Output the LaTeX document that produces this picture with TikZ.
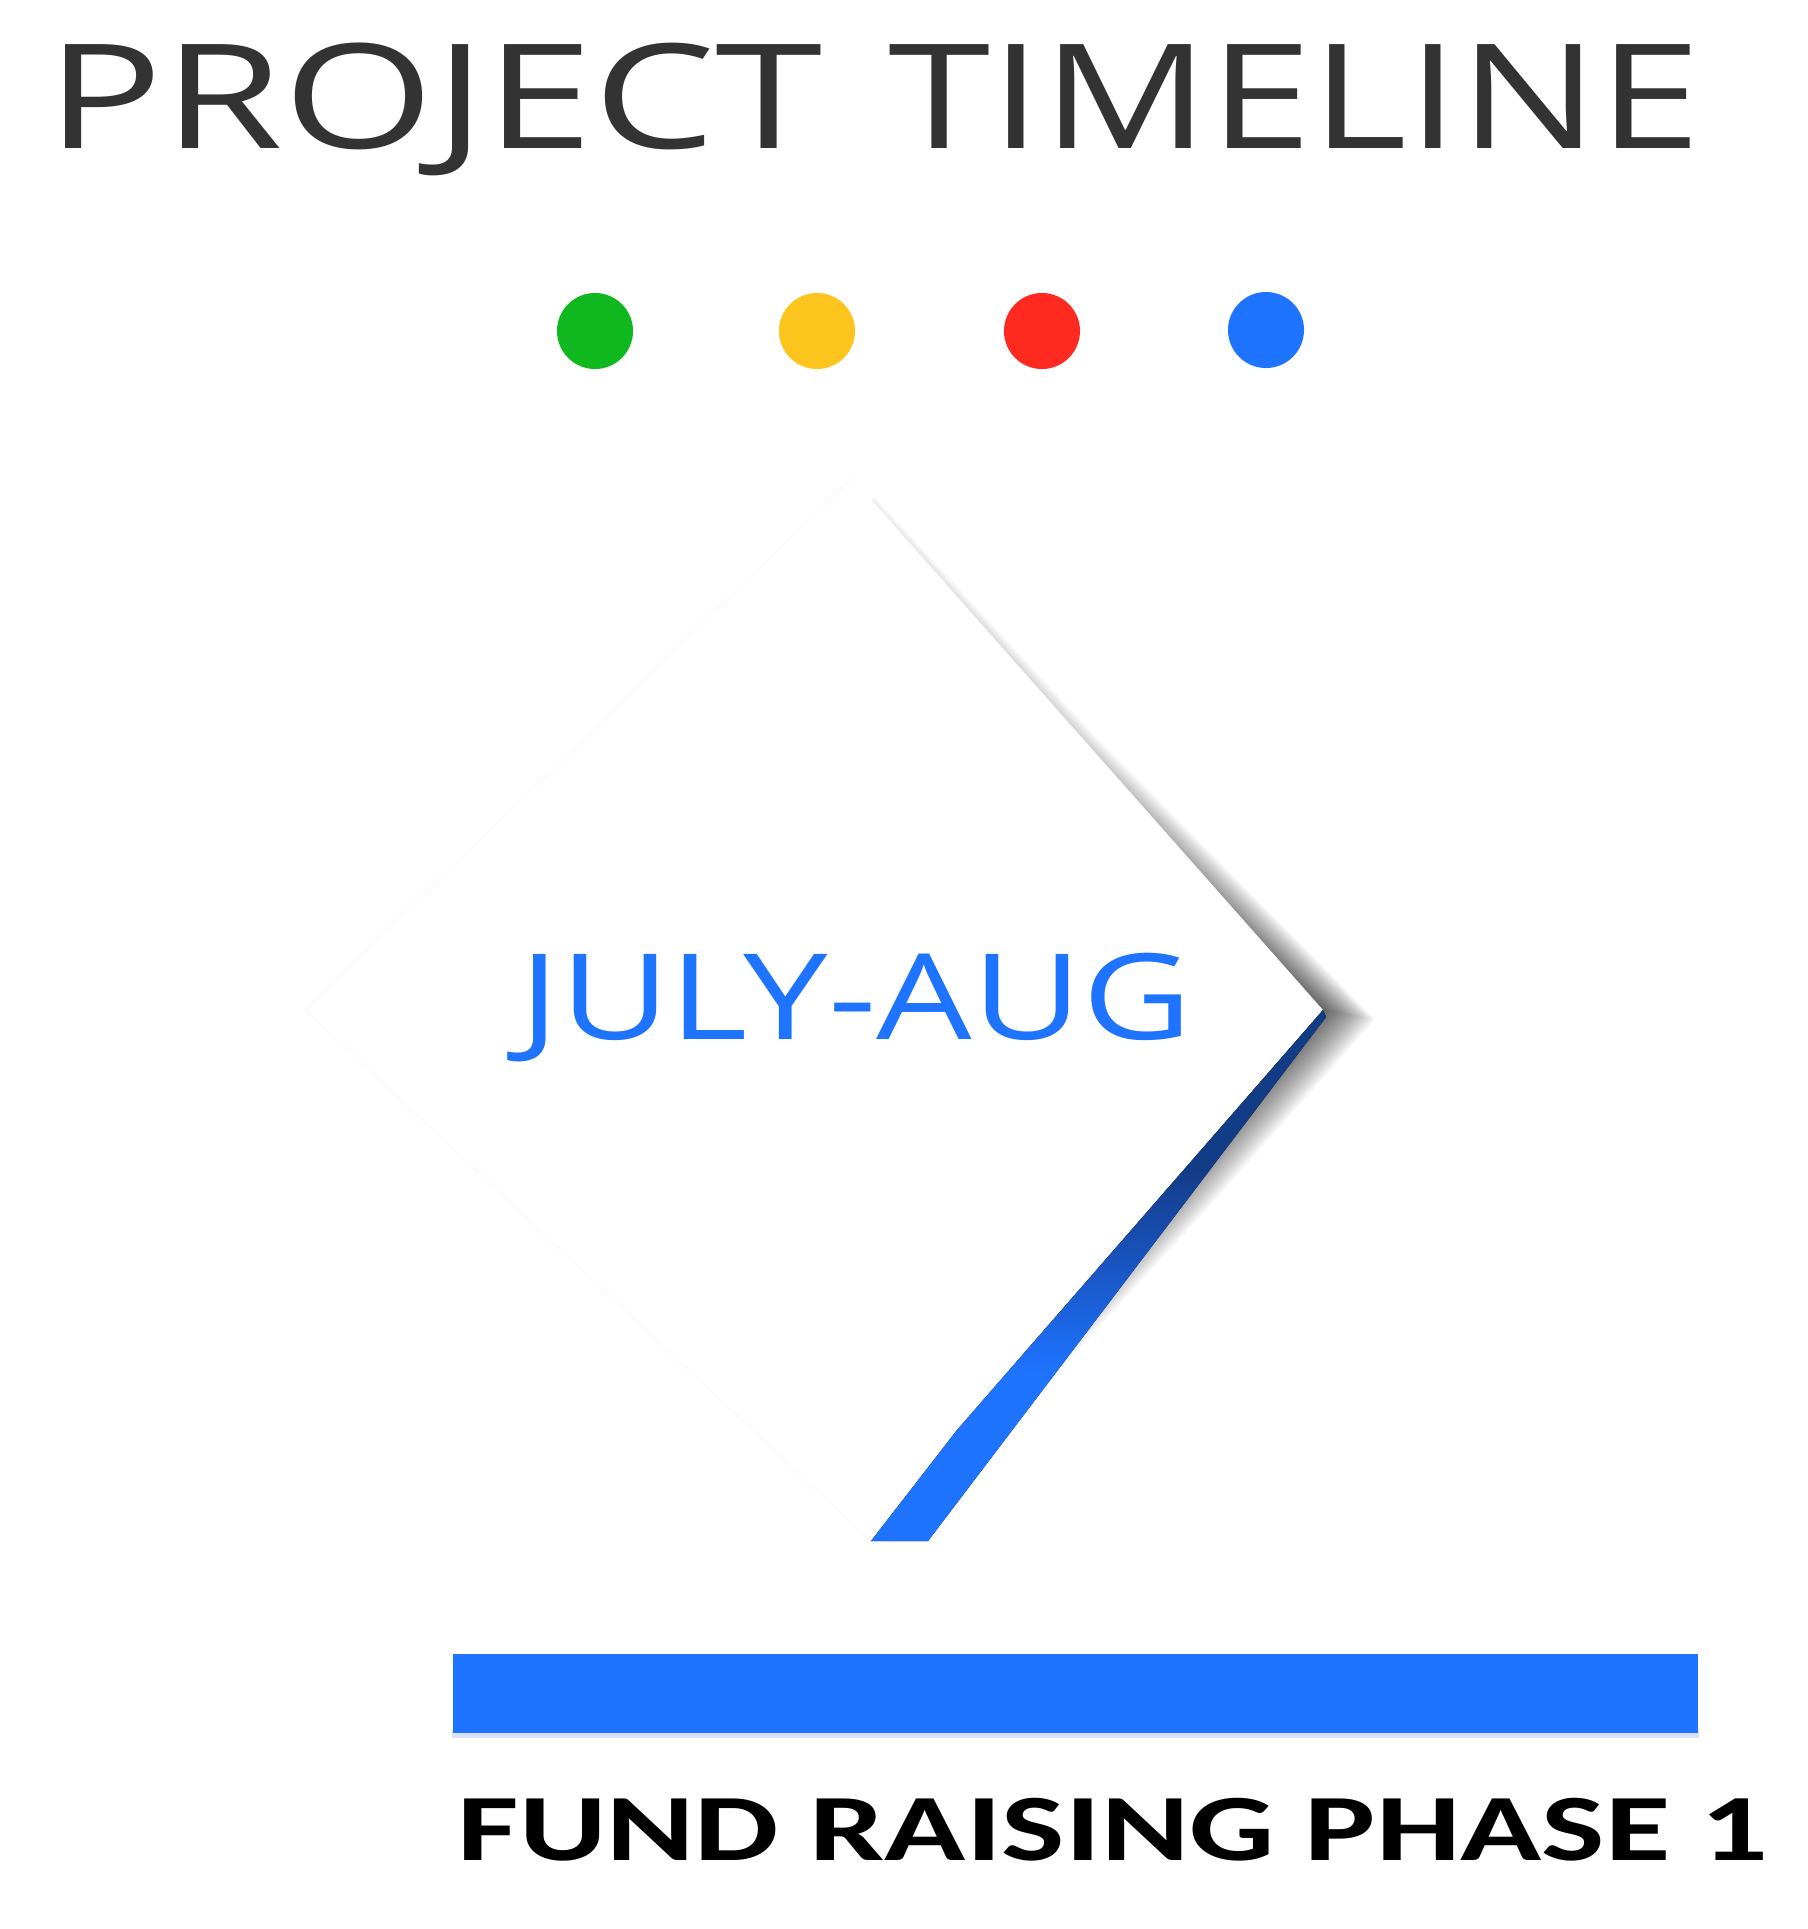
\documentclass[tikz,border=0pt]{standalone}
\usepackage{fontspec}
\usepackage{graphicx}
\newfontfamily\opensans{Open Sans}
\newfontfamily\carlito{Carlito}
\usetikzlibrary{calc}
\definecolor{titlegray}{HTML}{333333}
\definecolor{dotgreen}{HTML}{0EB81E}
\definecolor{dotyellow}{HTML}{FDC41E}
\definecolor{dotred}{HTML}{FF2A1F}
\definecolor{bmain}{HTML}{1E73FF}
\definecolor{bmid}{HTML}{1A58C8}
\definecolor{bdark}{HTML}{133C86}
\definecolor{glow}{HTML}{DDE0FA}
\pgfdeclareverticalshading{bluefold}{100bp}{color(0bp)=(bmain); color(41bp)=(bmain); color(50bp)=(bmid); color(60bp)=(bdark); color(100bp)=(bdark)}
\tikzset{
  dot/.style={circle, inner sep=0pt, minimum size=0.76cm},
  txt/.style={anchor=base west, inner sep=0pt},
  faint/.style={draw=black!2.5, line width=0.3pt},
}
\begin{document}
\begin{tikzpicture}[x=0.01cm, y=-0.01cm]
\useasboundingbox (0,0) rectangle (1808,1929);
\fill[white] (0,0) rectangle (1808,1929);
% title
\node[txt, text=titlegray] (proj) at (46,148) {\resizebox{7.76cm}{\height}{\opensans\fontsize{41.4}{42}\selectfont PROJECT}};
\node[txt, text=titlegray] (time) at (888,148) {\resizebox{8.12cm}{\height}{\opensans\fontsize{41.4}{42}\selectfont TIMELINE}};
% dots
\node[dot, fill=dotgreen] (d1) at (595,331) {};
\node[dot, fill=dotyellow] (d2) at (817,331) {};
\node[dot, fill=dotred] (d3) at (1042,331) {};
\node[dot, fill=bmain] (d4) at (1266,330) {};
% chevron geometry
\coordinate (T) at (852,478);
\coordinate (P) at (1323,1010);
\coordinate (P2) at (1326,1017);
\coordinate (K) at (957,1430);
\coordinate (B1) at (871,1541);
\coordinate (B2) at (928,1541);
\coordinate (L) at (305,1010);
\coordinate (C) at (800,1000);
\coordinate (Am) at ($(T)!0.04!(P)$);
\coordinate (Um) at ($(T)!0.50!(P)$);
\coordinate (Vm) at ($(P2)!0.35!(B2)$);
\coordinate (Wm) at ($(P2)!0.72!(B2)$);
% soft shadow: box-blurred stack of offset polygons
\foreach \j in {0,...,23}{
  \pgfmathsetmacro\e{-26+52*\j/23}
  \fill[black, fill opacity=0.037]
    ($(Am)+{-22+\e}*(0.749,-0.663)$) --
    ($(Um)+{-15+\e}*(0.749,-0.663)$) --
    ($(P)+{26+\e}*(1,0.18)$) --
    ($(Vm)+{-5+\e}*(0.796,0.605)$) --
    ($(Wm)+{-28+\e}*(0.796,0.605)$) --
    (C) -- cycle;
}
% white chevron
\fill[white] (T) -- (P) -- (K) -- (B1) -- (L) -- cycle;
\draw[faint] (T) -- (L) -- (B1);
% blue fold
\fill[shading=bluefold] (P) -- (P2) -- (B2) -- (B1) -- (K) -- cycle;
% date
\node[txt, text=bmain] (date) at (519,1039) {\resizebox{6.72cm}{\height}{\opensans\fontsize{33.9}{34}\selectfont JULY-AUG}};
% bar
\fill[glow] (452,1730) rectangle (1699,1738);
\node[rectangle, fill=bmain, inner sep=0pt, minimum width=12.45cm, minimum height=0.79cm, anchor=north west] (bar) at (452,1653) {};
% phase
\node[txt, text=black] (phase) at (457,1860) {\resizebox{13.10cm}{\height}{\carlito\bfseries\fontsize{27}{27}\selectfont FUND RAISING PHASE 1}};
\end{tikzpicture}
\end{document}
